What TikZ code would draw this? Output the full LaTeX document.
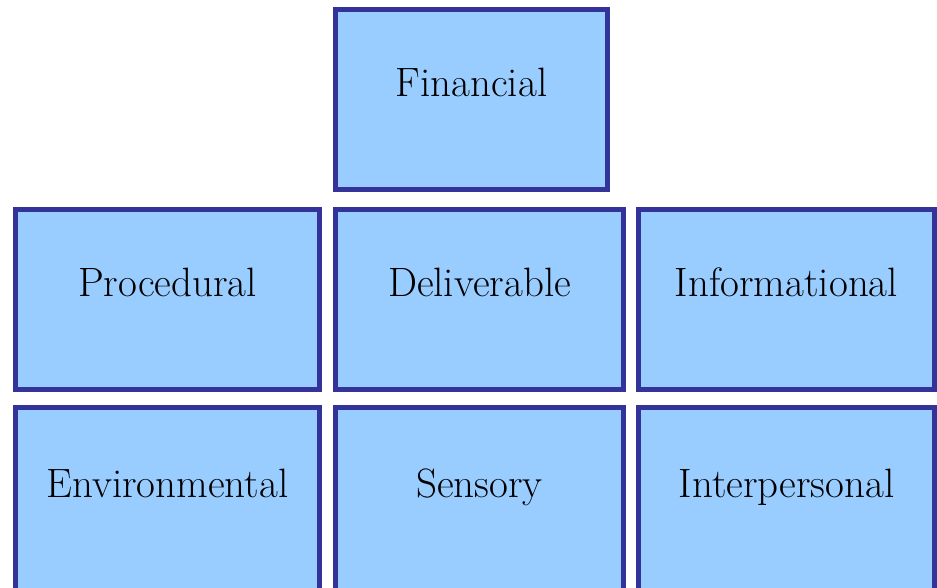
\documentclass[tikz,border=0pt]{standalone}
\begin{document}
\begin{tikzpicture}[x=1pt,y=1pt,
  catbox/.style={draw=boxline, fill=boxfill, line width=5.5pt, rectangle,
    inner sep=0pt, outer sep=0pt, anchor=south west,
    font=\fontsize{41}{44}\selectfont,
    text height=27pt, text depth=32pt}]
\definecolor{boxfill}{HTML}{99CCFF}
\definecolor{boxline}{HTML}{333399}
\useasboundingbox (0,0) rectangle (937,587);
\clip (0,0) rectangle (937,587);
\node[catbox, minimum width=272pt, minimum height=180pt] (fin) at (335.5,397.5) {Financial};
\node[catbox, minimum width=304pt, minimum height=180pt] (proc) at (15.5,197.5) {Procedural};
\node[catbox, minimum width=288pt, minimum height=180pt] (deli) at (335.5,197.5) {Deliverable};
\node[catbox, minimum width=296pt, minimum height=180pt] (info) at (638.5,197.5) {Informational};
\node[catbox, minimum width=304pt, minimum height=184pt] (env) at (15.5,-4.5) {Environmental};
\node[catbox, minimum width=288pt, minimum height=184pt] (sens) at (335.5,-4.5) {Sensory};
\node[catbox, minimum width=296pt, minimum height=184pt] (inter) at (638.5,-4.5) {Interpersonal};
\end{tikzpicture}
\end{document}
